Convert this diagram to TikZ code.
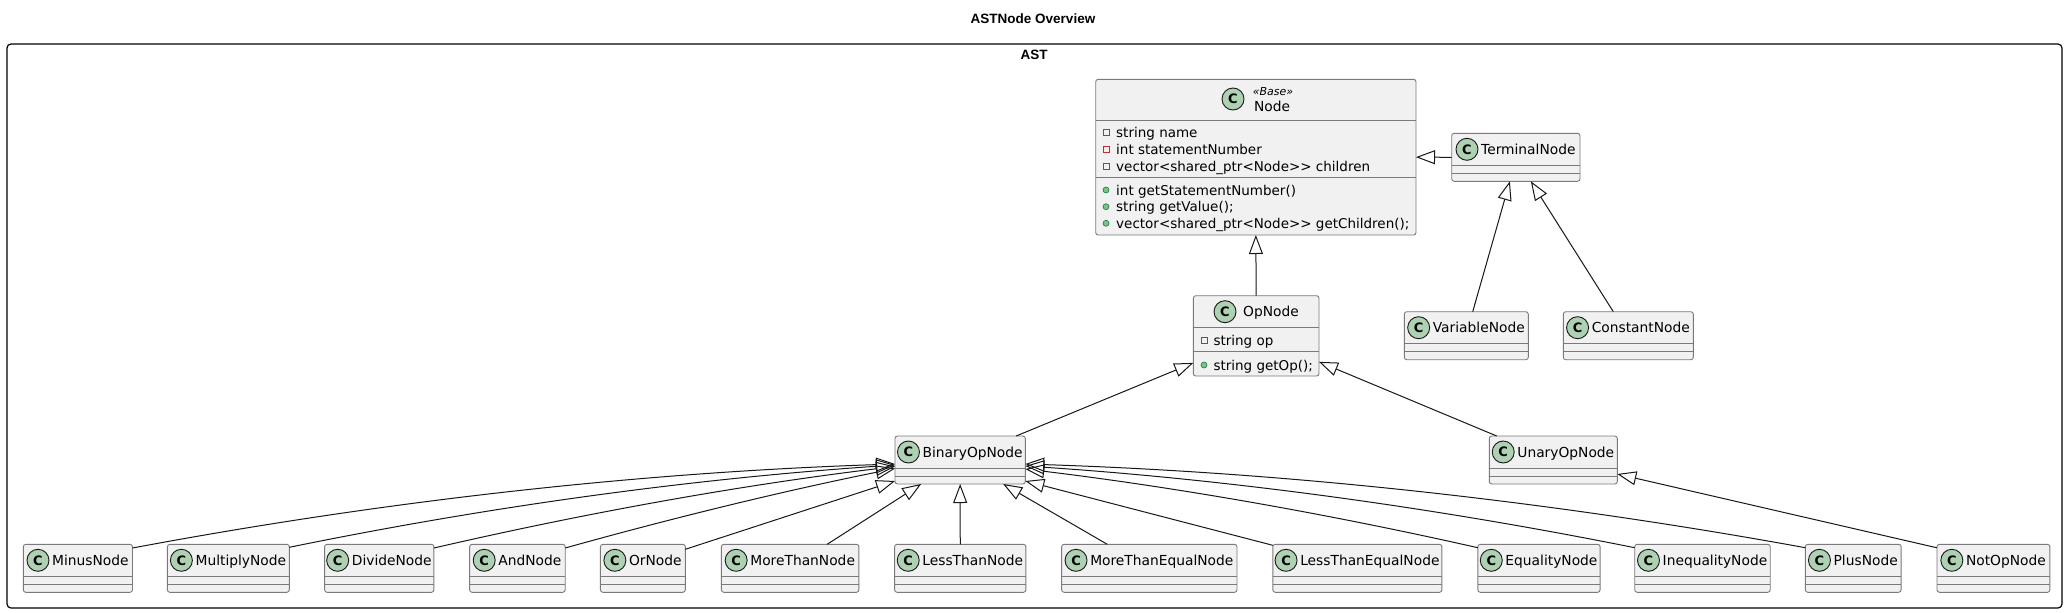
\documentclass[tikz,border=0pt]{standalone}
\usepackage{fontspec}
\setmainfont{DejaVu Sans}
\newfontfamily\titlef{Liberation Sans}
\usetikzlibrary{arrows.meta,calc}
\definecolor{boxfill}{HTML}{F1F1F1}
\definecolor{boxdraw}{HTML}{7A7A7A}
\definecolor{cfill}{HTML}{ADD1B2}
\definecolor{linec}{HTML}{181818}
\definecolor{privc}{HTML}{C82930}
\definecolor{pubf}{HTML}{84BE84}
\definecolor{pubd}{HTML}{038048}
\tikzset{
  clsbox/.style={rectangle, draw=boxdraw, fill=boxfill, line width=0.9pt, rounded corners=2.5pt, inner sep=0pt, outer sep=0pt},
  clsline/.style={draw=boxdraw, line width=0.9pt},
  clsname/.style={inner sep=0pt, font=\fontsize{13.8}{16}\selectfont, text height=10pt, text depth=0pt, text=black},
  mem/.style={inner sep=0pt, anchor=west, font=\fontsize{13.5}{16}\selectfont, text height=10pt, text depth=0pt},
  cc/.style={circle, draw=linec, line width=0.9pt, fill=cfill, minimum size=22pt, inner sep=0pt, font=\bfseries\fontsize{13}{13}\selectfont},
  privicon/.style={rectangle, draw=privc, line width=0.9pt, minimum size=6pt, inner sep=0pt},
  pubicon/.style={circle, draw=pubd, fill=pubf, line width=0.6pt, minimum size=6pt, inner sep=0pt},
  inh/.style={draw=linec, line width=1pt, -{Triangle[open, length=19pt, width=14pt]}},
  titletext/.style={inner sep=0pt, font=\titlef\bfseries\fontsize{13.5}{16}\selectfont, text height=9.7pt, text depth=0pt},
  framebox/.style={rectangle, draw=black, line width=1.2pt, rounded corners=4pt, inner sep=0pt, outer sep=0pt},
}
% #1 name, #2 x1, #3 x2, #4 y1, #5 label
\newcommand\simplecls[5]{%
  \node[clsbox, anchor=north west, minimum width={(#3)-(#2)}, minimum height=48] (#1) at (#2,#4) {};
  \draw[clsline] ($(#1.north west)+(0,32)$) -- ($(#1.north east)+(0,32)$);
  \draw[clsline] ($(#1.north west)+(0,40)$) -- ($(#1.north east)+(0,40)$);
  \node[clsname] (#1-t) at ($(#1.north)+(12.5,16)$) {#5};
  \node[cc] (#1-c) at ($(#1-t.west)+(-14,0)$) {C};
}
\begin{document}
\begin{tikzpicture}[x=1pt, y=-1pt]
\useasboundingbox (0,0) rectangle (2067,613);
\fill[white] (0,0) rectangle (2067,613);
\node[titletext] (title) at (1033,19) {ASTNode Overview};
\node[framebox, anchor=north west, minimum width=2055, minimum height=564] (ast) at (7,44) {};
\node[titletext] (astlabel) at (1034,55) {AST};

% Node
\node[clsbox, anchor=north west, minimum width=320.3, minimum height=155.7] (node) at (1095.7,79.3) {};
\draw[clsline] ($(node.north west)+(0,41.4)$) -- ($(node.north east)+(0,41.4)$);
\draw[clsline] ($(node.north west)+(0,98)$) -- ($(node.north east)+(0,98)$);
\node[cc] (node-c) at (1233,99) {C};
\node[inner sep=0pt, font=\itshape\fontsize{11}{12}\selectfont] (node-s) at (1273,92) {«Base»};
\node[clsname] (node-t) at (1272,106.7) {Node};
\node[privicon] (node-i1) at (1106,132.7) {};
\node[mem] (node-a1) at (1116,132.7) {string name};
\node[privicon] (node-i2) at (1106,149.3) {};
\node[mem] (node-a2) at (1116,149.3) {int statementNumber};
\node[privicon] (node-i3) at (1106,166) {};
\node[mem] (node-a3) at (1116,166) {vector<shared\_ptr<Node>{}> children};
\node[pubicon] (node-j1) at (1106,190) {};
\node[mem] (node-m1) at (1116,190) {int getStatementNumber()};
\node[pubicon] (node-j2) at (1106,206.7) {};
\node[mem] (node-m2) at (1116,206.7) {string getValue();};
\node[pubicon] (node-j3) at (1106,223.3) {};
\node[mem] (node-m3) at (1116,223.3) {vector<shared\_ptr<Node>{}> getChildren();};

% OpNode
\node[clsbox, anchor=north west, minimum width=125.7, minimum height=80.3] (op) at (1193.3,295.7) {};
\draw[clsline] ($(op.north west)+(0,31.6)$) -- ($(op.north east)+(0,31.6)$);
\draw[clsline] ($(op.north west)+(0,55.6)$) -- ($(op.north east)+(0,55.6)$);
\node[cc] (op-c) at (1225,311.7) {C};
\node[clsname, anchor=west] (op-t) at (1243,311.7) {OpNode};
\node[privicon] (op-i1) at (1204,340.3) {};
\node[mem] (op-a1) at (1213.3,340.3) {string op};
\node[pubicon] (op-j1) at (1204,365) {};
\node[mem] (op-m1) at (1213.3,365) {string getOp();};

% simple classes
\simplecls{term}{1451.7}{1580}{133.3}{TerminalNode}
\simplecls{var}{1404.3}{1528.3}{311.7}{VariableNode}
\simplecls{const}{1563.3}{1693.3}{311.7}{ConstantNode}
\simplecls{bin}{895}{1025.3}{436}{BinaryOpNode}
\simplecls{unary}{1489.3}{1617.3}{436}{UnaryOpNode}
\simplecls{minus}{23.3}{132.5}{544.3}{MinusNode}
\simplecls{mult}{167.4}{289.3}{544.3}{MultiplyNode}
\simplecls{div}{324.6}{433.9}{544.3}{DivideNode}
\simplecls{and}{469.6}{565.2}{544.3}{AndNode}
\simplecls{or}{600.4}{685.3}{544.3}{OrNode}
\simplecls{mt}{721.4}{858.9}{544.3}{MoreThanNode}
\simplecls{lt}{894.6}{1025.9}{544.3}{LessThanNode}
\simplecls{mte}{1061.6}{1237}{544.3}{MoreThanEqualNode}
\simplecls{lte}{1272.8}{1441.9}{544.3}{LessThanEqualNode}
\simplecls{eq}{1477.8}{1600.1}{544.3}{EqualityNode}
\simplecls{neq}{1634.7}{1770.2}{544.3}{InequalityNode}
\simplecls{plus}{1805.3}{1901.1}{544.3}{PlusNode}
\simplecls{notop}{1937}{2049.9}{544.3}{NotOpNode}

% connectors
\draw[inh] (term.west) -- (node.east);
\draw[inh] (op.north) -- (node.south);
\draw[inh] ([xshift=6.4pt]var.north) -- ([xshift=-6pt]term.south);
\draw[inh] ([xshift=-15pt]const.north) -- ([xshift=15pt]term.south);
\draw[inh] ([xshift=56pt]bin.north) -- ([yshift=-27pt]op.west);
\draw[inh] ([xshift=-56.6pt]unary.north) -- ([yshift=-26pt]op.east);
\draw[inh] ([yshift=-3.5pt]notop.north west) -- ([yshift=-14pt]unary.east);

\draw[inh] ([yshift=-3.7pt]minus.north east) .. controls (386.7,500.4) and (640.8,472.4) .. ([yshift=-4pt]bin.west);
\draw[inh] ([yshift=-3pt]mult.north east) .. controls (491.2,506) and (693.1,478.7) .. ([yshift=-5pt]bin.west);
\draw[inh] ([yshift=-3.7pt]div.north east) .. controls (587.7,512.5) and (741.3,485.1) .. ([yshift=-6.5pt]bin.west);
\draw[inh] ([yshift=-3.7pt]and.north east) .. controls (675,517.3) and (785,490.7) .. ([yshift=-8.5pt]bin.west);
\draw[inh] ([yshift=-5pt]or.north east) -- ([yshift=-21pt]bin.west);
\draw[inh] ([xshift=37pt]mt.north) -- ([xshift=-39pt]bin.south);
\draw[inh] (lt.north) -- (bin.south);
\draw[inh] ([xshift=-42pt]mte.north) -- ([xshift=43pt]bin.south);
\draw[inh] ([yshift=-1pt]lte.north west) -- ([yshift=-21pt]bin.east);
\draw[inh] ([yshift=-3.4pt]eq.north west) .. controls (1326.9,513.6) and (1175.9,487.3) .. ([yshift=-9pt]bin.east);
\draw[inh] ([yshift=-3.4pt]neq.north west) .. controls (1431.5,506.9) and (1228.2,479.6) .. ([yshift=-6pt]bin.east);
\draw[inh] ([yshift=-3.4pt]plus.north west) .. controls (1545.2,500.3) and (1285.1,472.4) .. ([yshift=-4pt]bin.east);
\end{tikzpicture}
\end{document}
